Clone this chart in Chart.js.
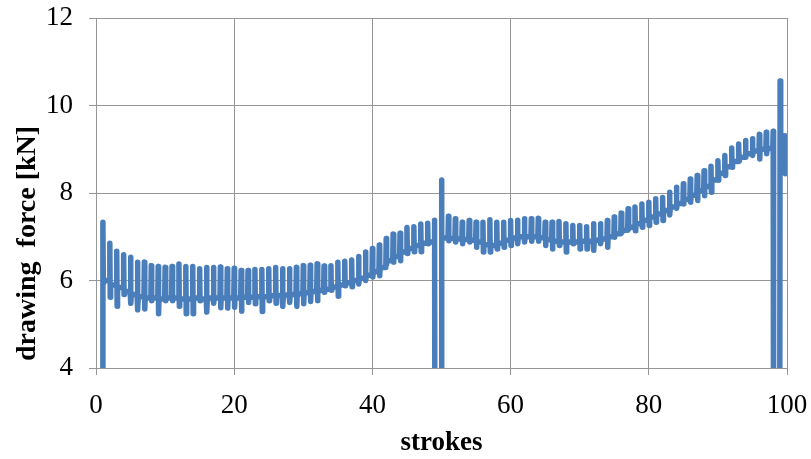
<!DOCTYPE html>
<html>
<head>
<meta charset="utf-8">
<script src="https://cdn.jsdelivr.net/npm/chart.js@4/dist/chart.umd.min.js"></script>
<style>
    body { margin: 0; background: #fff; }
</style>
</head>
<body>
<canvas id="forceChart" width="811" height="459"></canvas>
<script>
// drawing force per stroke (kN); 0 = signal dropped off the scale
const strokeCount = 99;
const startForce = 0;

const peakForce = [
    7.33, 6.85, 6.67, 6.59, 6.53, 6.42, 6.42, 6.34, 6.32, 6.30,
    6.32, 6.38, 6.32, 6.32, 6.27, 6.30, 6.30, 6.31, 6.27, 6.28,
    6.23, 6.23, 6.25, 6.25, 6.27, 6.30, 6.27, 6.27, 6.30, 6.34,
    6.35, 6.38, 6.33, 6.34, 6.42, 6.44, 6.47, 6.55, 6.65, 6.73,
    6.81, 6.96, 7.06, 7.08, 7.21, 7.23, 7.29, 7.31, 7.38, 8.30,
    7.47, 7.41, 7.33, 7.37, 7.33, 7.33, 7.39, 7.33, 7.33, 7.37,
    7.38, 7.41, 7.41, 7.42, 7.33, 7.33, 7.35, 7.30, 7.26, 7.26,
    7.23, 7.30, 7.30, 7.37, 7.45, 7.54, 7.64, 7.68, 7.75, 7.79,
    7.87, 7.90, 8.02, 8.13, 8.21, 8.32, 8.40, 8.51, 8.61, 8.74,
    8.86, 9.03, 9.12, 9.20, 9.24, 9.34, 9.39, 9.41, 10.56,
];

const troughForce = [
    5.95, 5.62, 5.41, 5.68, 5.48, 5.33, 5.35, 5.54, 5.24, 5.54,
    5.54, 5.41, 5.24, 5.24, 5.54, 5.28, 5.48, 5.38, 5.37, 5.39,
    5.30, 5.50, 5.47, 5.29, 5.54, 5.48, 5.41, 5.50, 5.41, 5.47,
    5.52, 5.54, 5.73, 5.78, 5.64, 5.88, 5.86, 5.92, 6.00, 6.08,
    6.11, 6.38, 6.42, 6.45, 6.62, 6.66, 6.66, 6.84, 0, 6.90,
    6.91, 6.88, 6.84, 6.88, 6.76, 6.65, 6.65, 6.72, 6.76, 6.80,
    6.84, 6.88, 6.90, 6.90, 6.80, 6.72, 6.80, 6.65, 6.84, 6.72,
    6.72, 6.69, 6.84, 6.76, 6.99, 7.10, 7.18, 7.14, 7.22, 7.26,
    7.33, 7.37, 7.50, 7.65, 7.75, 7.79, 7.83, 7.94, 8.02, 8.29,
    8.40, 8.59, 8.74, 8.82, 8.86, 8.78, 8.90, 0, 8.76,
];

const baseForce = [
    6.00, 5.90, 5.84, 5.75, 5.68, 5.63, 5.60, 5.60, 5.58, 5.60,
    5.60, 5.58, 5.58, 5.60, 5.58, 5.60, 5.60, 5.60, 5.60, 5.60,
    5.62, 5.62, 5.63, 5.63, 5.65, 5.66, 5.67, 5.68, 5.70, 5.72,
    5.75, 5.77, 5.80, 5.85, 5.90, 5.95, 6.00, 6.05, 6.12, 6.20,
    6.30, 6.45, 6.55, 6.65, 6.73, 6.80, 6.85, 6.88, 0, 6.97,
    6.96, 6.95, 6.94, 6.92, 6.88, 6.82, 6.80, 6.85, 6.92, 6.97,
    7.00, 7.00, 7.00, 6.98, 6.93, 6.90, 6.88, 6.88, 6.88, 6.90,
    6.90, 6.92, 6.95, 7.00, 7.07, 7.15, 7.22, 7.30, 7.38, 7.45,
    7.52, 7.60, 7.68, 7.76, 7.85, 7.95, 8.05, 8.15, 8.30, 8.45,
    8.60, 8.72, 8.82, 8.90, 8.96, 9.00, 9.02, 0, 8.79,
];

// last, cut-off stroke at the right edge
const lastStroke = 99.7;
const lastPeak = 9.31;
const lastTrough = 8.44;

const xTicks = [0, 20, 40, 60, 80, 100];
const yTicks = [4, 6, 8, 10, 12];

const lineColour = 'rgb(74,126,187)';
const gridColour = '#969696';
const serif = 'Liberation Serif';

function buildPoints() {
    const points = [];
    let prevBase = startForce;
    for (let i = 0; i < strokeCount; i++) {
        const s = i + 1;
        points.push({ x: s - 0.06, y: prevBase });
        points.push({ x: s, y: peakForce[i] });
        points.push({ x: s + 0.06, y: troughForce[i] });
        points.push({ x: s + 0.12, y: baseForce[i] });
        prevBase = baseForce[i];
    }
    points.push({ x: lastStroke - 0.06, y: prevBase });
    points.push({ x: lastStroke, y: lastPeak });
    points.push({ x: lastStroke + 0.06, y: lastTrough });
    return points;
}

const ctx = document.querySelector('#forceChart').getContext('2d');
new Chart(ctx, {
    type: 'line',
    data: {
        datasets: [{
            data: buildPoints(),
            borderColor: lineColour,
            borderWidth: 5.5,
            borderJoinStyle: 'round',
            borderCapStyle: 'round',
            pointRadius: 0,
            tension: 0,
            clip: 0,
        }],
    },
    options: {
        responsive: false,
        animation: false,
        devicePixelRatio: 1,
        layout: {
            padding: { left: 0, right: 24, top: 18, bottom: 0 },
        },
        plugins: {
            legend: { display: false },
            tooltip: { enabled: false },
        },
        scales: {
            x: {
                type: 'linear',
                min: 0,
                max: 100,
                afterBuildTicks: (scale) => {
                    scale.ticks = xTicks.map((v) => ({ value: v }));
                },
                afterFit: (scale) => {
                    scale.height = 91;
                    scale.paddingLeft = 0;
                    scale.paddingRight = 0;
                },
                ticks: {
                    color: '#000',
                    font: { family: serif, size: 27 },
                    padding: 15,
                    maxRotation: 0,
                },
                grid: { color: gridColour, tickLength: 7 },
                border: { color: gridColour },
                title: {
                    display: true,
                    text: 'strokes',
                    color: '#000',
                    font: { family: serif, size: 27, weight: 'bold' },
                    padding: { top: 0, bottom: 0 },
                },
            },
            y: {
                min: 4,
                max: 12,
                afterBuildTicks: (scale) => {
                    scale.ticks = yTicks.map((v) => ({ value: v }));
                },
                afterFit: (scale) => {
                    scale.width = 96;
                    scale.paddingTop = 0;
                    scale.paddingBottom = 0;
                },
                ticks: {
                    color: '#000',
                    font: { family: serif, size: 27 },
                    padding: 16,
                },
                grid: { color: gridColour, tickLength: 7 },
                border: { color: gridColour },
                title: {
                    display: true,
                    text: ' drawing  force [kN]',
                    align: 'start',
                    color: '#000',
                    font: { family: serif, size: 28, weight: 'bold' },
                    padding: { top: 11, bottom: 0 },
                },
            },
        },
    },
});
</script>
</body>
</html>
